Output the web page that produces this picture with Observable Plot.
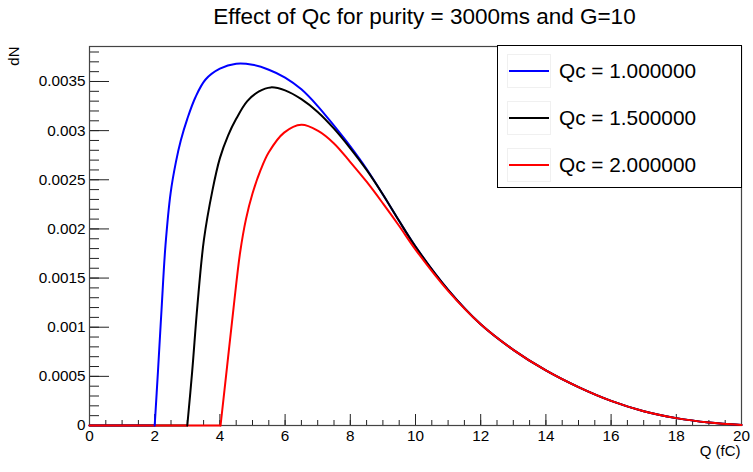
<!DOCTYPE html>
<html>
<head>
<meta charset="utf-8">
<script src="https://cdn.jsdelivr.net/npm/d3@7"></script>
<script src="https://cdn.jsdelivr.net/npm/@observablehq/plot@0.6"></script>
<style>
  html, body { margin: 0; padding: 0; background: #fff; }
  #wrap { position: relative; width: 753px; height: 472px; background: #fff;
          font-family: "Liberation Sans", Arial, Helvetica, sans-serif; overflow: hidden; }
  #title { position: absolute; left: 0; top: 6px; width: 849px; text-align: center;
           font-size: 22.5px; line-height: 1; color: #000; white-space: nowrap; }
  #legend { position: absolute; left: 497px; top: 45px; width: 245px; height: 143px;
            box-sizing: border-box; border: 1px solid #000; background: #fff; }
  .row { position: absolute; left: 0; height: 34px; width: 100%; }
  .sw { position: absolute; left: 9px; top: 0; width: 44px; height: 34px; box-sizing: border-box;
        border: 1px solid #f0f0f0; }
  .sw div { position: absolute; left: 1px; right: 1px; top: 15px; height: 2px; }
  .lt { position: absolute; left: 61px; top: 0; line-height: 34px; font-size: 20.8px; color: #000; white-space: nowrap; }
  #chart { position: absolute; left: 0; top: 0; }
</style>
</head>
<body>
<div id="wrap">
  <div id="chart"></div>
  <div id="title"></div>
  <div id="legend"></div>
</div>
<script>
// ---- text ----
const TITLE = "Effect of Qc for purity = 3000ms and G=10";
const X_LABEL = "Q (fC)";
const Y_LABEL = "dN";

// ---- series ----
const SERIES_LABELS = ["Qc = 1.000000", "Qc = 1.500000", "Qc = 2.000000"];
const SERIES_COLORS = ["#0000ff", "#000000", "#ff0000"];

// Qc = 1
const Q_QC1 = [0, 2.0, 2.1, 2.21, 2.33, 2.49, 2.65, 2.8, 3.0, 3.25, 3.56, 4.0, 4.5,
               5.0, 5.5, 6.0, 6.5, 7.0, 7.5, 8.0, 8.5, 9.0, 9.5, 10,
               11, 12, 13, 14, 15, 16, 17, 18, 19, 20];
const DN_QC1 = [0, 0, 0.00055, 0.00118, 0.00183, 0.00237, 0.00268, 0.0029, 0.00312, 0.00334, 0.00352, 0.00363, 0.00368,
                0.00367, 0.00362, 0.00354, 0.00342, 0.00325, 0.00305, 0.00284, 0.00261, 0.00235, 0.00208, 0.00182,
                0.00138, 0.00103, 0.00077, 0.00056, 0.00039, 0.00025, 0.000145, 0.000075, 0.00003, 0.000005];

// Qc = 1.5
const Q_QC15 = [0, 3.0, 3.15, 3.31, 3.51, 3.77, 4.0, 4.25, 4.5, 4.84, 5.2, 5.56,
                6.0, 6.5, 7.0, 7.5, 8.0, 8.5, 9.0, 9.5, 10,
                11, 12, 13, 14, 15, 16, 17, 18, 19, 20];
const DN_QC15 = [0, 0, 0.00055, 0.00122, 0.00189, 0.00239, 0.00272, 0.00295, 0.00312, 0.0033, 0.0034, 0.00344,
                 0.00341, 0.00332, 0.00319, 0.00302, 0.00282, 0.0026, 0.00235, 0.00208, 0.00182,
                 0.00138, 0.00103, 0.00077, 0.00056, 0.00039, 0.00025, 0.000145, 0.000075, 0.00003, 0.000005];

// Qc = 2
const Q_QC2 = [0, 4.02, 4.22, 4.42, 4.62, 4.8, 5.0, 5.25, 5.5, 5.97, 6.5,
               7.0, 7.5, 8.0, 8.5, 9.0, 9.5, 10,
               11, 12, 13, 14, 15, 16, 17, 18, 19, 20];
const DN_QC2 = [0, 0, 0.0006, 0.0012, 0.00176, 0.0021, 0.00236, 0.0026, 0.00278, 0.00298, 0.00306,
                0.003, 0.00287, 0.00268, 0.00248, 0.00226, 0.00203, 0.00179,
                0.00137, 0.00103, 0.00077, 0.00056, 0.00039, 0.00025, 0.000145, 0.000075, 0.00003, 0.000005];

// ---- axes ----
const X_DOMAIN = [0, 20];
const Y_DOMAIN = [0, 0.003856];
const X_TICKS = [0, 2, 4, 6, 8, 10, 12, 14, 16, 18, 20];
const X_TICK_LABELS = ["0", "2", "4", "6", "8", "10", "12", "14", "16", "18", "20"];
const X_MINOR = d3.range(0, 20.001, 0.5);
const Y_TICKS = [0, 0.0005, 0.001, 0.0015, 0.002, 0.0025, 0.003, 0.0035];
const Y_TICK_LABELS = ["0", "0.0005", "0.001", "0.0015", "0.002", "0.0025", "0.003", "0.0035"];
const Y_MINOR = d3.range(0, 39).map(i => i * 0.0001);

// ---- build ----
const qs = [Q_QC1, Q_QC15, Q_QC2];
const dns = [DN_QC1, DN_QC15, DN_QC2];
// flat part (before threshold) and curved part (from threshold on)
const flatRows = SERIES_LABELS.flatMap((s, k) => qs[k].slice(0, 2).map((q, i) => ({Q: q, dN: dns[k][i], series: s})));
const curveRows = SERIES_LABELS.flatMap((s, k) => qs[k].slice(1).map((q, i) => ({Q: q, dN: dns[k][i + 1], series: s})));

const xLab = new Map(X_TICKS.map((v, i) => [v, X_TICK_LABELS[i]]));
const yLab = new Map(Y_TICKS.map((v, i) => [v, Y_TICK_LABELS[i]]));
const FONT = "'Liberation Sans', Arial, Helvetica, sans-serif";

const chart = Plot.plot({
  width: 753,
  height: 472,
  marginTop: 46,
  marginRight: 12,
  marginBottom: 47,
  marginLeft: 89,
  style: {fontFamily: FONT, fontSize: "15px", background: "transparent", color: "#000"},
  x: {domain: X_DOMAIN},
  y: {domain: Y_DOMAIN},
  color: {domain: SERIES_LABELS, range: SERIES_COLORS},
  marks: [
    Plot.axisY({ticks: Y_MINOR, tickSize: -10, tickFormat: () => "", label: null, stroke: "#222"}),
    Plot.axisY({ticks: Y_TICKS, tickSize: -20, tickPadding: 24, tickFormat: d => yLab.get(d), label: null, stroke: "#222", fill: "#000", fontSize: 15.3}),
    Plot.axisX({ticks: X_MINOR, tickSize: -5, tickFormat: () => "", label: null, stroke: "#222"}),
    Plot.axisX({ticks: X_TICKS, tickSize: -11, tickPadding: 16, tickFormat: d => xLab.get(d), label: null, stroke: "#222", fill: "#000", fontSize: 15.3}),
    Plot.frame({stroke: "#444", strokeWidth: 1.2}),
    Plot.line(flatRows, {x: "Q", y: "dN", z: "series", stroke: "series", strokeWidth: 2}),
    Plot.line(curveRows, {x: "Q", y: "dN", z: "series", stroke: "series", strokeWidth: 2, curve: "catmull-rom"}),
    Plot.text([X_LABEL], {frameAnchor: "bottom-right", dy: 30, dx: -1, textAnchor: "end", fontSize: 15, fill: "#000"}),
    Plot.text([Y_LABEL], {frameAnchor: "top-left", dx: -81, rotate: -90, textAnchor: "end", fontSize: 15, fill: "#000"})
  ]
});
document.getElementById("chart").appendChild(chart);
document.getElementById("title").textContent = TITLE;

const legend = document.getElementById("legend");
SERIES_LABELS.forEach((s, k) => {
  const row = document.createElement("div");
  row.className = "row";
  row.style.top = (8 + 47 * k) + "px";
  const sw = document.createElement("div");
  sw.className = "sw";
  const ln = document.createElement("div");
  ln.style.background = SERIES_COLORS[k];
  sw.appendChild(ln);
  const t = document.createElement("div");
  t.className = "lt";
  t.textContent = s;
  row.appendChild(sw);
  row.appendChild(t);
  legend.appendChild(row);
});
</script>
</body>
</html>
